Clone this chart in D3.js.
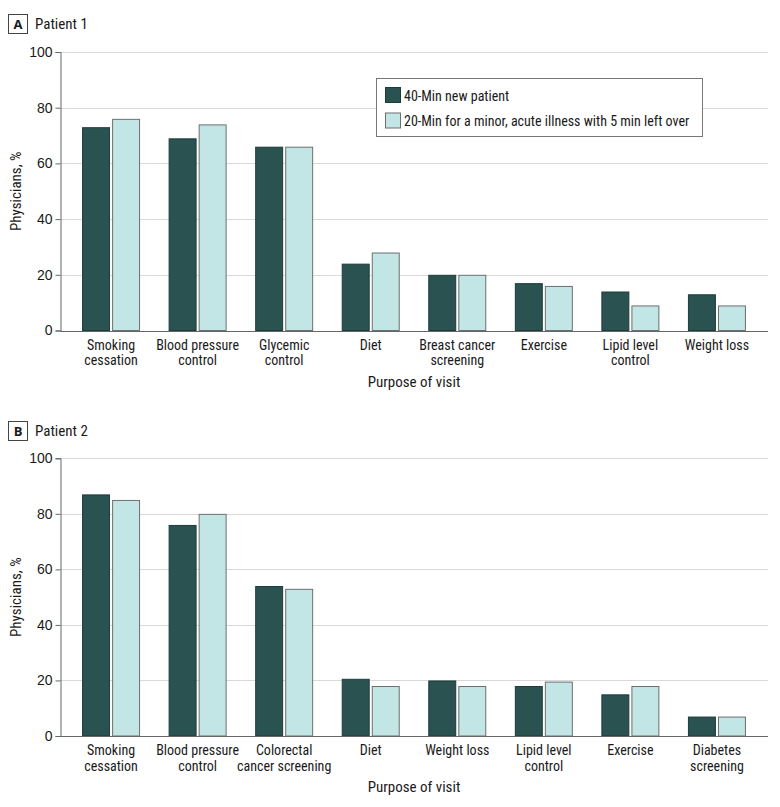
<!DOCTYPE html>
<html>
<head>
<meta charset="utf-8">
<script src="https://cdn.jsdelivr.net/npm/d3@7"></script>
<style>
  html, body { margin: 0; padding: 0; background: #fff; }
  svg { display: block; }
  text { font-family: "Liberation Sans Narrow", "Roboto Condensed", "Arial Narrow", sans-serif; fill: #1a1a1a; }
</style>
</head>
<body>
<svg id="chart" width="780" height="807"></svg>
<script>
// ---- Data ----
const seriesNames = ["40-Min new patient", "20-Min for a minor, acute illness with 5 min left over"];
const categoriesA = [
  ["Smoking", "cessation"], ["Blood pressure", "control"], ["Glycemic", "control"], ["Diet"],
  ["Breast cancer", "screening"], ["Exercise"], ["Lipid level", "control"], ["Weight loss"]
];
const newPatientA = [73, 69, 66, 24, 20, 17, 14, 13];
const minorIllnessA = [76, 74, 66, 28, 20, 16, 9, 9];

const categoriesB = [
  ["Smoking", "cessation"], ["Blood pressure", "control"], ["Colorectal", "cancer screening"], ["Diet"],
  ["Weight loss"], ["Lipid level", "control"], ["Exercise"], ["Diabetes", "screening"]
];
const newPatientB = [87, 76, 54, 20.6, 20, 18, 15, 7];
const minorIllnessB = [85, 80, 53, 18, 18, 19.6, 18, 7];

const yTicks = [0, 20, 40, 60, 80, 100];
const panelTitles = ["Patient 1", "Patient 2"];
const panelLetters = ["A", "B"];
const xAxisTitle = "Purpose of visit";
const yAxisTitle = "Physicians, %";

// ---- Drawing ----
const svg = d3.select("#chart");
const colors = ["#2a5251", "#c1e6e5"];
const strokes = ["#1d3b3a", "#6e6e6e"];

function drawPanel(opts) {
  const { top, yTop, yBottom, cats, s1, s2, letter, title } = opts;
  const g = svg.append("g");
  const xLeft = 60, xRight = 768;

  // panel label
  g.append("rect").attr("x", 8.5).attr("y", top + 0.5).attr("width", 19).attr("height", 19)
    .attr("fill", "#fff").attr("stroke", "#444").attr("stroke-width", 1);
  g.append("text").attr("x", 18).attr("y", top + 15).attr("text-anchor", "middle")
    .style("font-family", "'Open Sans', sans-serif").style("font-weight", "bold").style("font-size", "13px")
    .text(letter);
  g.append("text").attr("x", 35).attr("y", top + 15).style("font-size", "15px").text(title);

  const y = d3.scaleLinear().domain([0, 100]).range([yBottom, yTop]);
  const x = d3.scaleBand().domain(d3.range(cats.length)).range([xLeft, xRight])
    .paddingInner(0).paddingOuter(0.09);
  const xSub = d3.scaleBand().domain([0, 1]).range([-29, 29]).paddingInner(4 / 58);

  // gridlines
  g.append("g").selectAll("line").data(yTicks.filter(d => d > 0)).join("line")
    .attr("x1", xLeft).attr("x2", xRight)
    .attr("y1", d => Math.round(y(d)) + 0.5).attr("y2", d => Math.round(y(d)) + 0.5)
    .attr("stroke", "#d9d9d9").attr("stroke-width", 1);

  // y axis
  const yAxis = d3.axisLeft(y).tickValues(yTicks).tickSize(5).tickPadding(3);
  const ya = g.append("g").attr("transform", `translate(${xLeft + 0.5},0)`).call(yAxis);
  ya.select(".domain").attr("stroke", "#666");
  ya.selectAll(".tick line").attr("stroke", "#666");
  ya.selectAll(".tick text").style("font-size", "14px").attr("fill", "#1a1a1a")
    .style("font-family", "'Liberation Sans Narrow', sans-serif");

  // bars
  const data = cats.map((c, i) => ({ i, vals: [s1[i], s2[i]] }));
  const groups = g.append("g").selectAll("g").data(data).join("g")
    .attr("transform", d => `translate(${x(d.i) + x.bandwidth() / 2},0)`);
  groups.selectAll("rect").data(d => d.vals.map((v, k) => ({ v, k }))).join("rect")
    .attr("x", d => xSub(d.k) + 0.5)
    .attr("width", xSub.bandwidth() - 1)
    .attr("y", d => y(d.v) + 0.5)
    .attr("height", d => y(0) - y(d.v) - 0.5)
    .attr("fill", d => colors[d.k])
    .attr("stroke", d => strokes[d.k]).attr("stroke-width", 1);

  // x axis line
  g.append("line").attr("x1", xLeft).attr("x2", xRight)
    .attr("y1", Math.round(yBottom) + 0.5).attr("y2", Math.round(yBottom) + 0.5)
    .attr("stroke", "#666").attr("stroke-width", 1.2);

  // x labels
  const lab = g.append("g").selectAll("text").data(data).join("text")
    .attr("text-anchor", "middle")
    .attr("x", d => x(d.i) + x.bandwidth() / 2)
    .attr("y", yBottom + 19)
    .style("font-size", "14px");
  lab.selectAll("tspan").data(d => cats[d.i]).join("tspan")
    .attr("x", function () { return d3.select(this.parentNode).attr("x"); })
    .attr("dy", (d, k) => k === 0 ? 0 : 15.5)
    .text(d => d);

  // axis titles
  g.append("text").attr("x", (xLeft + xRight) / 2).attr("y", yBottom + 56)
    .attr("text-anchor", "middle").style("font-size", "15px").text(xAxisTitle);
  g.append("text")
    .attr("transform", `translate(21,${(yTop + yBottom) / 2}) rotate(-90)`)
    .attr("text-anchor", "middle").style("font-size", "15px").text(yAxisTitle);

  return g;
}

drawPanel({ top: 14, yTop: 52, yBottom: 330.5, cats: categoriesA, s1: newPatientA, s2: minorIllnessA,
  letter: panelLetters[0], title: panelTitles[0] });
drawPanel({ top: 421, yTop: 458.3, yBottom: 736, cats: categoriesB, s1: newPatientB, s2: minorIllnessB,
  letter: panelLetters[1], title: panelTitles[1] });

// legend (panel A)
const lg = svg.append("g").attr("transform", "translate(376,78)");
lg.append("rect").attr("x", 0.5).attr("y", 0.5).attr("width", 326).attr("height", 58)
  .attr("fill", "#fff").attr("stroke", "#777").attr("stroke-width", 1);
seriesNames.forEach((name, k) => {
  lg.append("rect").attr("x", 9.5).attr("y", 9.5 + k * 25.5).attr("width", 15).attr("height", 15)
    .attr("fill", colors[k]).attr("stroke", strokes[k]);
  lg.append("text").attr("x", 28).attr("y", 22.5 + k * 25.5).style("font-size", "14px").text(name);
});
</script>
</body>
</html>
